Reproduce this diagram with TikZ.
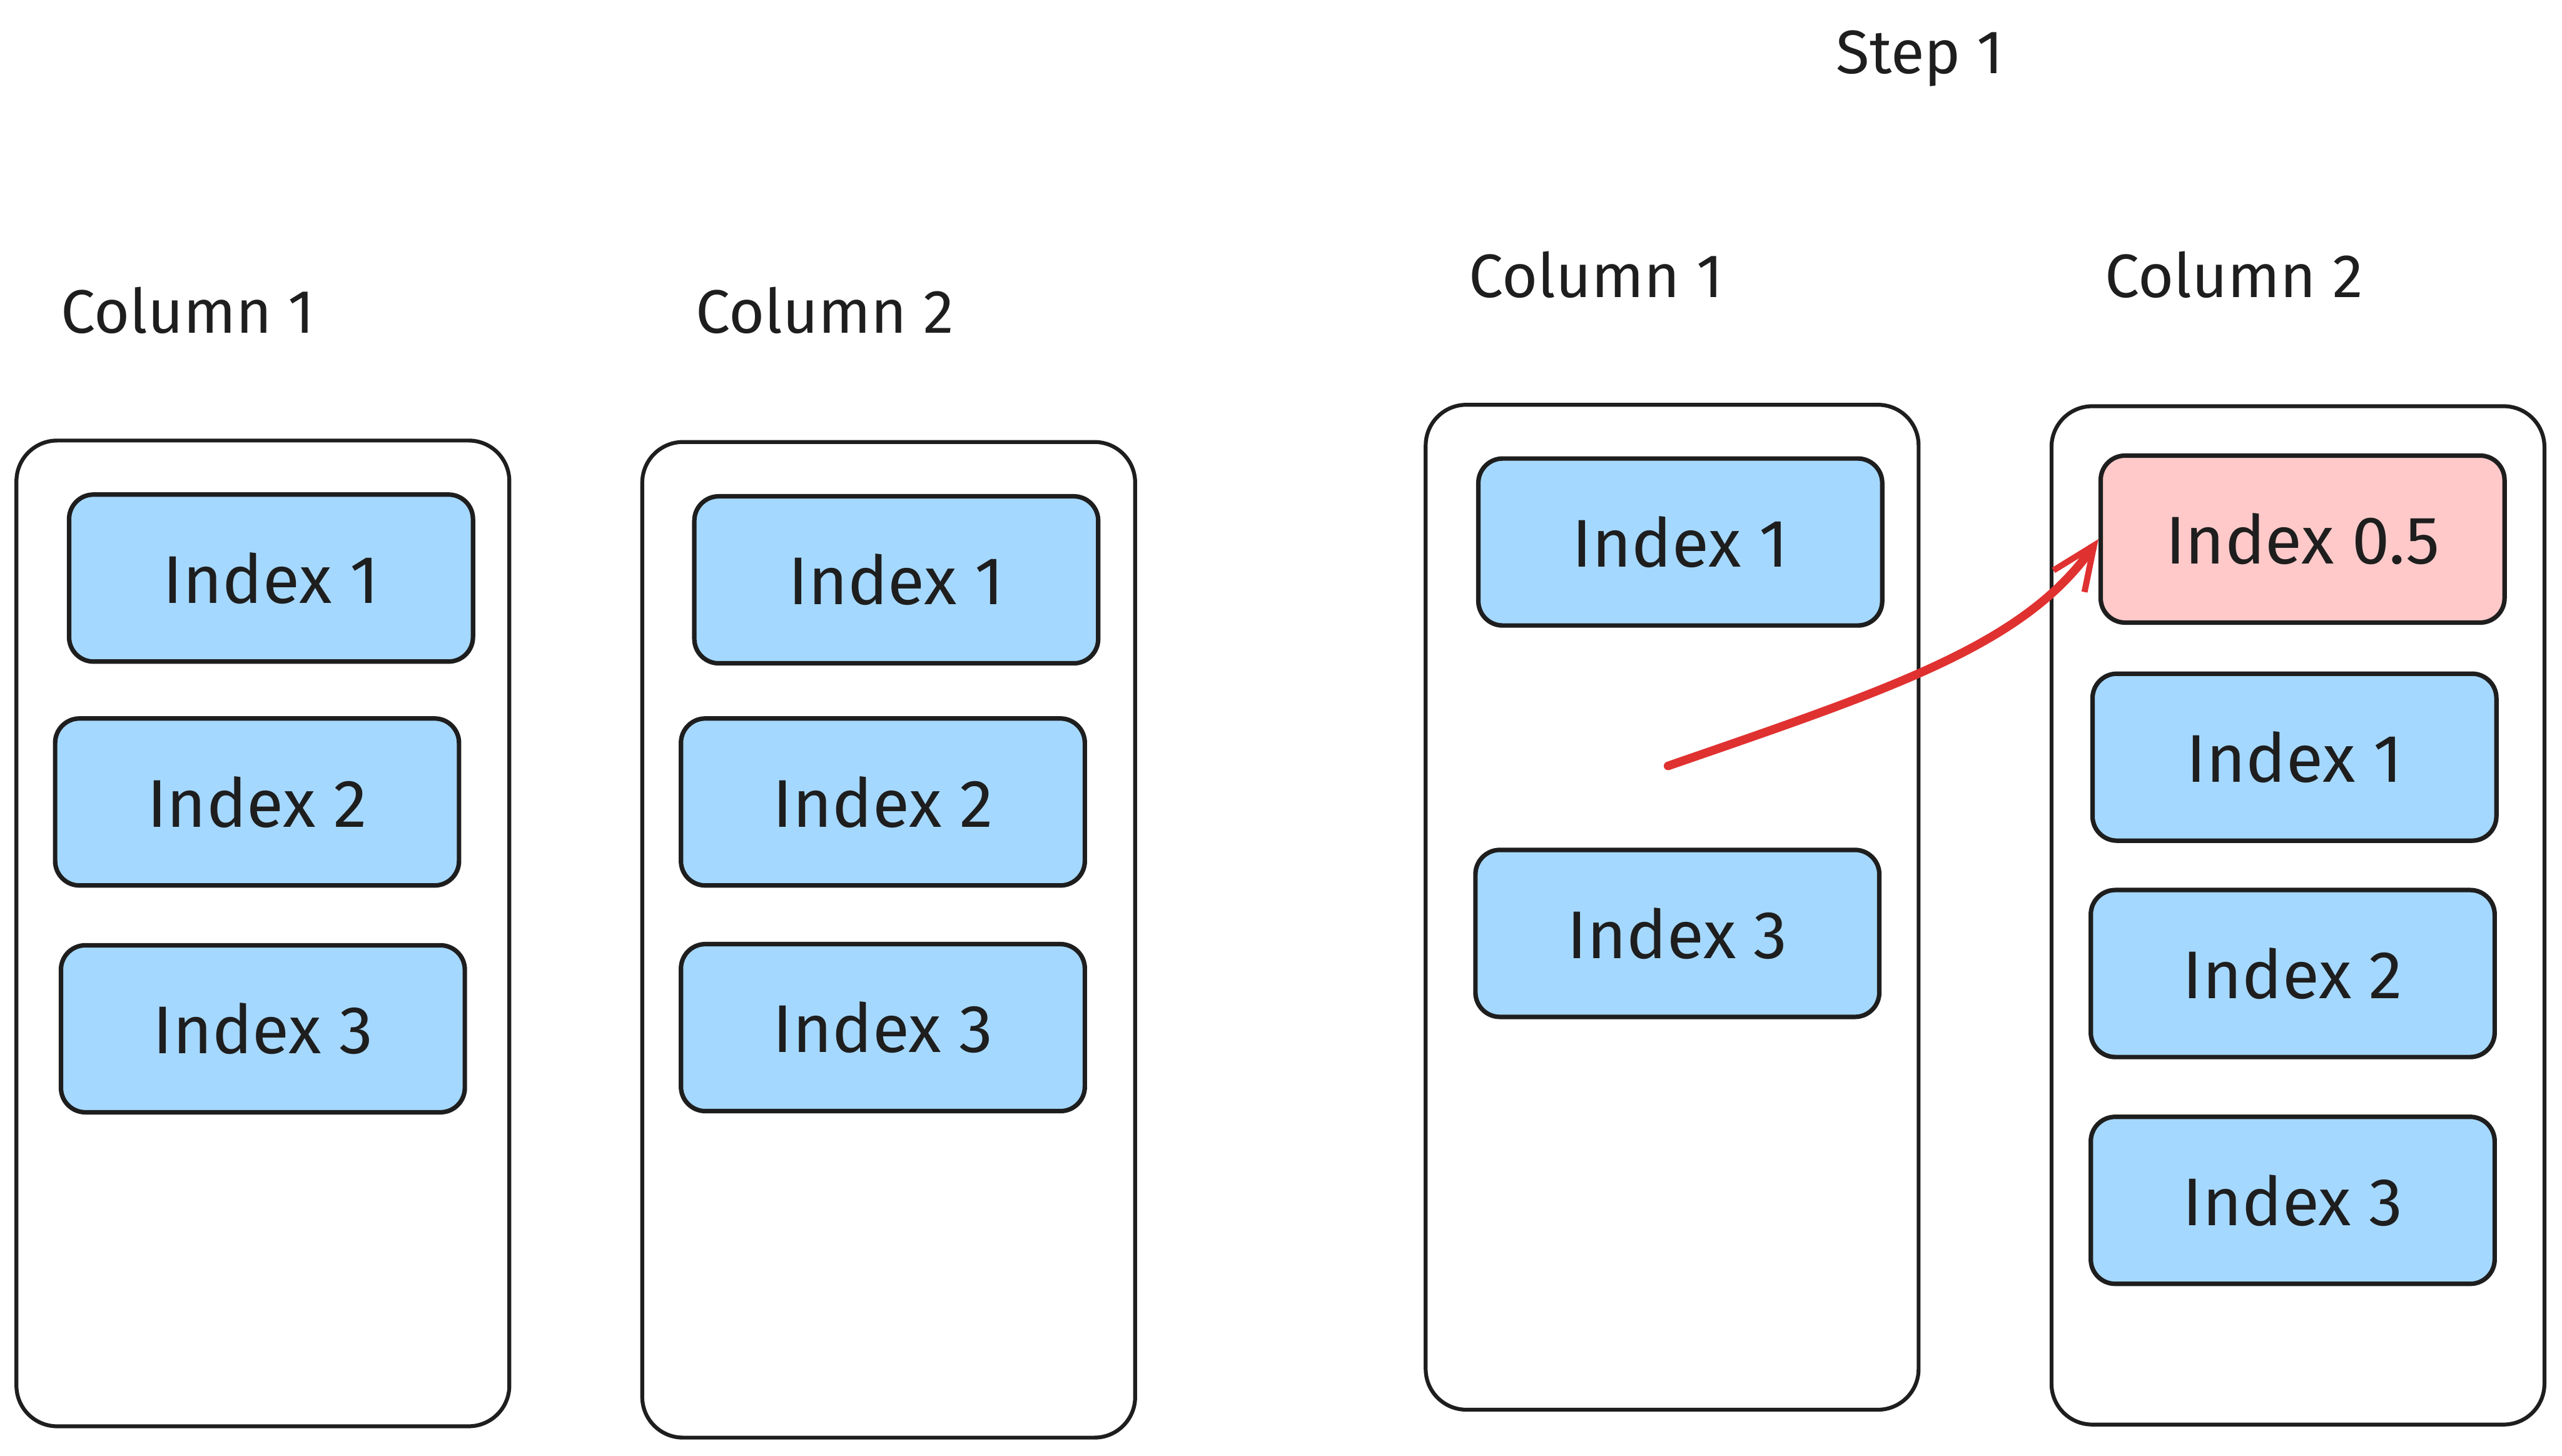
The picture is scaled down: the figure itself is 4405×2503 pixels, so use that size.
\documentclass[tikz,border=0pt]{standalone}
\usepackage{fontspec}
\setmainfont{Fira Sans}
\usetikzlibrary{arrows.meta}
\definecolor{stroke}{HTML}{1E1E1E}
\definecolor{blue}{HTML}{A5D8FF}
\definecolor{pink}{HTML}{FFC9C9}
\definecolor{redarrow}{HTML}{E03131}
\tikzset{
  container/.style={draw=stroke, line width=1.9pt, rounded corners=0.7cm, fill=white,
    minimum width=8.47cm, minimum height=17.1cm, inner sep=0pt},
  item/.style={draw=stroke, line width=2.2pt, rounded corners=0.42cm, fill=blue,
    minimum width=6.94cm, minimum height=2.87cm, inner sep=0pt,
    font=\fontsize{33}{38}\selectfont, text=stroke},
  newitem/.style={item, fill=pink},
  label/.style={font=\fontsize{30}{36}\selectfont, text=stroke, inner sep=0pt},
  movearrow/.style={draw=redarrow, line width=4.2pt, line cap=round,
    -{Straight Barb[length=0.75cm, width=0.65cm, line width=3pt]}}
}
\begin{document}
\begin{tikzpicture}[x=0.01cm, y=-0.01cm]
\useasboundingbox (0,0) rectangle (4405,2503);
% left panel
\node[label] (lc1) at (323,534) {Column 1};
\node[label] (lc2) at (1418,534) {Column 2};
\node[container, minimum height=16.94cm] (A) at (452,1605) {};
\node[container, minimum height=17.11cm] (B) at (1528,1616) {};
\node[item] (a1) at (466,994) {Index 1};
\node[item] (a2) at (442,1379) {Index 2};
\node[item] (a3) at (452,1769) {Index 3};
\node[item] (b1) at (1541,997) {Index 1};
\node[item] (b2) at (1518,1379) {Index 2};
\node[item] (b3) at (1518,1767) {Index 3};
% right panel
\node[label] (step) at (3301,101) {Step 1};
\node[label] (rc1) at (2744,472) {Column 1};
\node[label] (rc2) at (3841,472) {Column 2};
\node[container, minimum height=17.27cm] (C) at (2875,1560) {};
\node[container, minimum height=17.5cm] (D) at (3951,1574) {};
\node[item] (c1) at (2889,932) {Index 1};
\node[item] (c3) at (2884,1605) {Index 3};
\node[newitem] (d0) at (3959,927) {Index 0.5};
\node[item] (d1) at (3945,1302) {Index 1};
\node[item] (d2) at (3942,1674) {Index 2};
\node[item] (d3) at (3942,2064) {Index 3};
% arrow
\coordinate (start) at (2868,1317);
\draw[movearrow] (start) .. controls (3250,1185) and (3480,1110) .. (d0.west);
\end{tikzpicture}
\end{document}
